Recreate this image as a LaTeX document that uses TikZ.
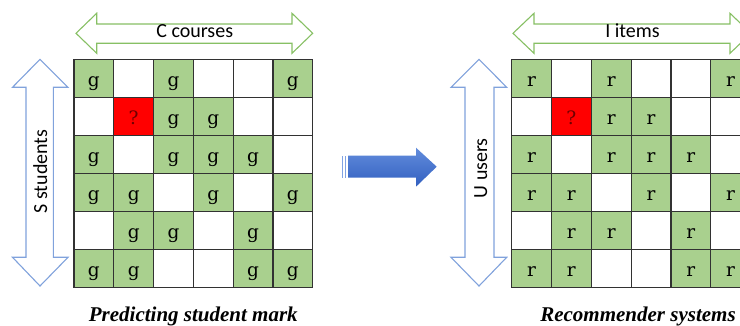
\documentclass[tikz,border=0pt]{standalone}
\usepackage{fontspec}
\setmainfont{Liberation Serif}
\newfontfamily\labelsans{Carlito}
\newfontfamily\cellserif{DejaVu Serif}
\definecolor{cellgreen}{RGB}{169,208,142}
\definecolor{cellred}{RGB}{255,0,0}
\definecolor{qmark}{RGB}{110,0,0}
\definecolor{gridline}{RGB}{50,50,50}
\definecolor{arrowgreen}{RGB}{135,192,100}
\definecolor{arrowblue}{RGB}{128,162,220}
\definecolor{bluetop}{RGB}{98,140,220}
\definecolor{bluebot}{RGB}{50,96,192}
\begin{document}
\begin{tikzpicture}[x=1pt,y=-1pt,
  cell/.style={draw=gridline, line width=1.2pt, minimum width=39.8pt,
    minimum height=38.07pt, inner sep=0pt,
    font=\cellserif\fontsize{18.5}{18.5}\selectfont, text height=16.4pt, text depth=0pt},
  filled/.style={cell, fill=cellgreen},
  blank/.style={cell, fill=white},
  unknown/.style={cell, fill=cellred, text=qmark},
  greenarrow/.style={draw=arrowgreen, line width=1.1pt, fill=white, line join=miter},
  bluearrow/.style={draw=arrowblue, line width=1.1pt, fill=white, line join=miter},
  axislabel/.style={font=\labelsans\fontsize{20}{20}\selectfont, inner sep=0pt, anchor=base},
  caption/.style={font=\bfseries\itshape\fontsize{21}{21}\selectfont, inner sep=0pt, anchor=base}
]
\useasboundingbox (0,0) rectangle (740,326);
\clip (0,0) rectangle (740,326);

% horizontal double arrows above the grids
\draw[greenarrow] (76,33.3) -- (96.7,13.3) -- (96.7,24) -- (292,24) -- (292,13.3)
  -- (312.7,33.3) -- (292,53.3) -- (292,43.3) -- (96.7,43.3) -- (96.7,53.3) -- cycle;
\draw[greenarrow] (513,33.3) -- (534,13.3) -- (534,24) -- (730,24) -- (730,13.3)
  -- (751,33.3) -- (730,53.3) -- (730,43.3) -- (534,43.3) -- (534,53.3) -- cycle;

% vertical double arrows beside the grids
\draw[bluearrow] (40,59.3) -- (68,87.3) -- (53.3,87.3) -- (53.3,257.3) -- (68,257.3)
  -- (40,286) -- (12.5,257.3) -- (26,257.3) -- (26,87.3) -- (12.5,87.3) -- cycle;
\draw[bluearrow] (479,59.3) -- (506.7,87.3) -- (494,87.3) -- (494,257.3) -- (506.7,257.3)
  -- (479,286) -- (451,257.3) -- (465,257.3) -- (465,87.3) -- (451,87.3) -- cycle;

% axis labels
\node[axislabel] (courses) at (194.7,38) {C courses};
\node[axislabel] (items) at (632.5,38) {I items};
\node[axislabel, rotate=90] (students) at (47,171.5) {S students};
\node[axislabel, rotate=90] (users) at (487,168.3) {U users};

% block arrow between the two grids
\fill[bluetop!80!white] (342,155.7) rectangle (343.4,177.7);
\fill[bluetop!80!white] (345,155.7) rectangle (346.4,177.7);
\shade[top color=bluetop, bottom color=bluebot]
  (348,155.7) -- (416,155.7) -- (416,147.7) -- (436.7,166.7) -- (416,186.7)
  -- (416,177.7) -- (348,177.7) -- cycle;

% the two rating matrices: 0 = empty, 1 = known value, 2 = value to predict
\foreach \row [count=\i] in {{1,0,1,0,0,1},{0,2,1,1,0,0},{1,0,1,1,1,0},
                             {1,1,0,1,0,1},{0,1,1,0,1,0},{1,1,0,0,1,1}} {
  \foreach \v [count=\j] in \row {
    \ifcase\v
      \node[blank] (L-\i-\j) at ({74+(\j-0.5)*39.8},{59.3+(\i-0.5)*38.07}) {};
      \node[blank] (R-\i-\j) at ({511.7+(\j-0.5)*39.8},{59.3+(\i-0.5)*38.07}) {};
    \or
      \node[filled] (L-\i-\j) at ({74+(\j-0.5)*39.8},{59.3+(\i-0.5)*38.07}) {g};
      \node[filled] (R-\i-\j) at ({511.7+(\j-0.5)*39.8},{59.3+(\i-0.5)*38.07}) {r};
    \or
      \node[unknown] (L-\i-\j) at ({74+(\j-0.5)*39.8},{59.3+(\i-0.5)*38.07}) {?};
      \node[unknown] (R-\i-\j) at ({511.7+(\j-0.5)*39.8},{59.3+(\i-0.5)*38.07}) {?};
    \fi
  }
}

% captions
\node[caption] (capL) at (193.3,321) {Predicting student mark};
\node[caption] (capR) at (638,321) {Recommender systems};
\end{tikzpicture}
\end{document}
